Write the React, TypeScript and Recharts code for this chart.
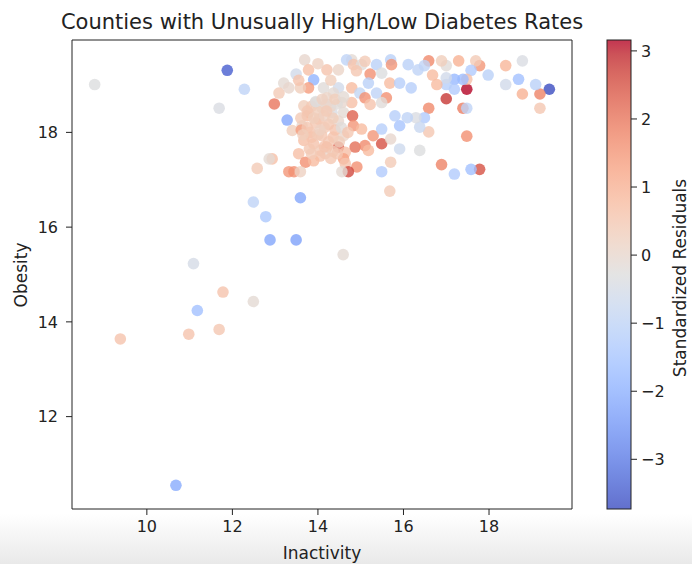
import React from 'react';
import { ScatterChart, Scatter, XAxis, YAxis, ReferenceLine } from 'recharts';

// [inactivity %, obesity %, standardized residual]
type County = [number, number, number];

// Counties outside the main cloud
const outlyingCounties: County[] = [
  [8.78, 19.01, -0.3],
  [11.88, 19.31, -3.45],
  [12.28, 18.91, -1.0],
  [11.69, 18.51, -0.4],
  [12.98, 18.6, 2.0],
  [12.49, 16.53, -1.0],
  [12.78, 16.22, -1.4],
  [13.59, 16.62, -2.2],
  [12.88, 15.73, -2.2],
  [13.49, 15.73, -2.3],
  [14.59, 15.42, -0.1],
  [11.09, 15.23, -0.5],
  [11.78, 14.63, 0.6],
  [12.49, 14.43, -0.1],
  [11.18, 14.24, -1.6],
  [9.38, 13.64, 0.6],
  [10.98, 13.74, 0.6],
  [11.69, 13.84, 0.5],
  [10.68, 10.55, -2.1],
];

// Counties in the dense middle band
const coreCounties: County[] = [
  [13.69, 19.53, 0.0],
  [13.49, 19.23, -0.6],
  [13.78, 19.32, 0.7],
  [13.9, 19.11, -1.9],
  [13.78, 18.94, 1.4],
  [13.2, 19.04, -0.1],
  [13.09, 18.83, 0.4],
  [13.32, 18.94, 0.0],
  [13.59, 18.94, 0.3],
  [14.21, 19.32, 0.6],
  [14.48, 19.32, 0.1],
  [14.79, 19.53, -0.1],
  [14.67, 19.53, -1.0],
  [14.83, 19.43, 0.6],
  [15.02, 19.43, -0.2],
  [15.22, 19.23, 1.6],
  [15.18, 19.04, -1.1],
  [15.37, 19.43, -1.1],
  [15.7, 19.53, -1.1],
  [15.72, 19.43, 1.5],
  [15.49, 19.25, -0.3],
  [15.68, 19.04, 0.8],
  [15.91, 19.04, -1.2],
  [16.11, 19.43, -1.1],
  [16.34, 19.32, -1.0],
  [16.18, 18.94, -1.2],
  [14.48, 18.94, -0.6],
  [14.79, 18.94, 0.8],
  [14.98, 18.83, -0.9],
  [15.1, 18.73, 1.6],
  [15.37, 18.83, -1.0],
  [15.6, 18.73, 1.6],
  [15.49, 18.63, -0.2],
  [15.22, 18.59, 0.6],
  [14.79, 18.63, 0.7],
  [14.56, 18.63, 0.0],
  [14.36, 18.83, -0.1],
  [14.13, 18.94, -0.2],
  [14.21, 18.73, 0.1],
  [13.94, 18.63, 0.2],
  [13.67, 18.56, 0.3],
  [13.78, 18.42, 0.2],
  [14.09, 18.52, 0.0],
  [14.33, 18.42, -0.4],
  [14.6, 18.42, -0.1],
  [14.81, 18.35, 2.3],
  [13.75, 18.35, 0.8],
  [13.28, 18.26, -2.2],
  [13.63, 18.14, 0.0],
  [14.02, 18.28, 0.6],
  [14.25, 18.17, 0.5],
  [14.48, 18.24, 0.0],
  [14.83, 18.14, 1.5],
  [15.02, 18.07, 0.8],
  [13.4, 18.04, 0.3],
  [13.61, 18.05, 1.4],
  [13.82, 18.0, 0.6],
  [14.09, 17.93, 0.5],
  [14.36, 17.9, 0.6],
  [14.6, 17.93, 0.1],
  [13.67, 17.83, 0.7],
  [13.9, 17.76, 0.6],
  [14.21, 17.69, 1.2],
  [14.48, 17.69, 2.4],
  [14.64, 17.58, 0.7],
  [14.87, 17.69, 2.1],
  [15.1, 17.72, 1.7],
  [15.29, 17.93, 1.5],
  [15.49, 17.76, 2.5],
  [15.7, 17.86, 0.0],
  [15.18, 17.62, 0.8],
  [13.55, 17.55, 0.7],
  [13.71, 17.37, 1.6],
  [14.06, 17.62, 0.4],
  [14.17, 17.55, 0.1],
  [14.6, 17.44, 1.3],
  [14.64, 17.34, 0.6],
  [14.91, 17.27, 1.6],
  [14.71, 17.17, 2.6],
  [14.56, 17.17, -0.1],
  [13.32, 17.17, 1.5],
  [13.44, 17.17, 1.6],
  [13.59, 17.17, 0.2],
  [12.93, 17.44, 0.7],
  [12.86, 17.44, -0.1],
  [12.58, 17.24, 0.4],
  [15.49, 17.17, -1.3],
  [15.7, 17.37, 0.4],
  [15.68, 16.76, 0.4],
  [15.91, 17.65, -0.7],
  [15.8, 18.35, -1.2],
  [15.91, 18.14, -1.5],
  [15.49, 18.07, -1.2],
  [13.85, 18.55, 0.4],
  [14.0, 18.45, 0.3],
  [14.15, 18.35, 0.2],
  [14.3, 18.55, 0.1],
  [14.45, 18.6, -0.2],
  [13.95, 18.2, 0.5],
  [14.15, 18.1, 0.4],
  [14.35, 18.3, 0.3],
  [14.4, 18.05, 0.6],
  [13.75, 18.1, 0.5],
  [13.85, 17.9, 0.6],
  [14.0, 17.95, 0.4],
  [14.25, 17.8, 0.5],
  [14.5, 17.8, 0.3],
  [13.8, 17.65, 0.5],
  [14.05, 17.5, 0.6],
  [14.35, 17.6, 0.4],
  [13.95, 18.65, -0.3],
  [14.2, 18.6, 0.0],
  [14.55, 18.1, -0.2],
  [14.7, 18.0, 0.5],
  [13.6, 18.3, 0.4],
  [14.1, 18.7, 0.2],
  [14.3, 17.45, 0.5],
  [13.9, 17.4, 0.8],
  [13.75, 18.45, 0.5],
  [13.9, 18.3, 0.3],
  [14.05, 18.05, 0.2],
  [14.2, 18.45, 0.4],
  [14.4, 18.7, 0.3],
  [13.65, 17.95, 0.3],
  [14.15, 17.7, 0.6],
  [14.45, 17.55, 0.5],
  [13.85, 17.55, 0.4],
  [14.6, 18.75, -0.1],
  [14.9, 19.3, 0.5],
  [15.1, 19.5, 0.4],
  [14.3, 19.1, 0.3],
  [14.0, 19.45, 0.2],
  [13.55, 19.1, 0.6],
];

// Counties with the highest inactivity
const easternCounties: County[] = [
  [19.41, 18.91, -3.73],
  [19.19, 18.81, 1.8],
  [19.19, 18.51, 0.5],
  [19.09, 19.01, -1.1],
  [18.78, 18.81, 1.0],
  [18.69, 19.12, -1.6],
  [18.78, 19.51, -0.4],
  [18.39, 19.41, 0.9],
  [18.39, 19.01, -0.6],
  [17.98, 19.21, -1.1],
  [17.78, 19.41, 1.5],
  [17.69, 19.51, 0.4],
  [17.58, 19.31, -1.3],
  [17.48, 18.91, 3.16],
  [17.48, 19.12, 0.7],
  [17.39, 19.12, -1.7],
  [17.19, 19.12, -1.8],
  [17.19, 18.91, -1.3],
  [17.0, 19.41, -0.2],
  [16.89, 19.51, 0.3],
  [17.0, 19.01, -1.2],
  [17.0, 19.15, -0.6],
  [17.0, 18.71, 2.8],
  [17.29, 19.51, 1.0],
  [16.59, 19.51, 1.7],
  [16.68, 19.21, 0.8],
  [16.78, 19.01, 0.8],
  [16.49, 19.41, -1.0],
  [16.59, 18.51, 1.7],
  [17.39, 18.51, 1.9],
  [17.48, 18.51, -1.0],
  [17.48, 17.92, 1.6],
  [17.78, 17.22, 2.5],
  [17.58, 17.22, -1.6],
  [17.19, 17.12, -1.3],
  [16.89, 17.32, 1.8],
  [16.59, 18.01, 0.5],
  [16.49, 18.31, -1.3],
  [16.38, 18.11, -0.8],
  [16.29, 18.31, -0.4],
  [16.09, 18.31, -1.0],
  [16.38, 17.62, -0.3],
];

const xTicks = [10, 12, 14, 16, 18];
const yTicks = [12, 14, 16, 18];
const residualTicks = [-3, -2, -1, 0, 1, 2, 3];
const residualMin = -3.73;
const residualMax = 3.16;

// coolwarm colormap, 33 evenly spaced stops
const COOLWARM: [number, number, number][] = [
  [59, 76, 192], [68, 90, 204], [77, 104, 215], [87, 117, 225], [98, 130, 234],
  [108, 142, 241], [119, 154, 247], [130, 165, 251], [141, 176, 254], [152, 185, 255],
  [163, 194, 255], [174, 201, 253], [184, 208, 249], [194, 213, 244], [204, 217, 238],
  [213, 219, 230], [221, 221, 221], [229, 216, 209], [236, 211, 197], [241, 204, 185],
  [245, 196, 173], [247, 187, 160], [247, 177, 148], [247, 166, 135], [244, 154, 123],
  [241, 141, 111], [236, 127, 99], [229, 112, 88], [222, 96, 77], [213, 80, 66],
  [203, 62, 56], [192, 40, 47], [180, 4, 38],
];

function coolwarmAt(t: number): string {
  const c = Math.max(0, Math.min(1, t)) * (COOLWARM.length - 1);
  const i = Math.min(COOLWARM.length - 2, Math.floor(c));
  const f = c - i;
  const a = COOLWARM[i];
  const b = COOLWARM[i + 1];
  const mix = (k: number) => Math.round(a[k] + (b[k] - a[k]) * f);
  return `rgb(${mix(0)},${mix(1)},${mix(2)})`;
}

function residualColor(r: number): string {
  return coolwarmAt((r - residualMin) / (residualMax - residualMin));
}

const counties = [...outlyingCounties, ...coreCounties, ...easternCounties].map(
  ([inactivity, obesity, residual]) => ({ inactivity, obesity, residual })
);

const FONT = '"DejaVu Sans", sans-serif';
const INK = '#222';

// plot frame in page pixels
const PLOT = { left: 72, top: 40, right: 572, bottom: 509 };
const CBAR = { left: 607, width: 24 };

const tickStyle = { fontSize: 16, fill: INK, fontFamily: FONT };

const Dot = (props: any) => (
  <circle
    cx={props.cx}
    cy={props.cy}
    r={5.8}
    fill={residualColor(props.payload.residual)}
    fillOpacity={0.8}
  />
);

function Colorbar() {
  const h = PLOT.bottom - PLOT.top;
  const yOf = (v: number) => PLOT.top + ((residualMax - v) / (residualMax - residualMin)) * h;
  const stops = COOLWARM.map((_, i) => {
    const t = i / (COOLWARM.length - 1);
    const v = residualMax - t * (residualMax - residualMin);
    return { offset: t, color: residualColor(v) };
  });
  return (
    <g>
      <defs>
        <linearGradient id="cbar" x1="0" y1="0" x2="0" y2="1">
          {stops.map((s, i) => (
            <stop key={i} offset={s.offset} stopColor={s.color} stopOpacity={0.8} />
          ))}
        </linearGradient>
      </defs>
      <rect x={CBAR.left} y={PLOT.top} width={CBAR.width} height={h} fill="url(#cbar)" stroke={INK} strokeWidth={1} />
      {residualTicks.map((v) => (
        <g key={v}>
          <line x1={CBAR.left + CBAR.width} x2={CBAR.left + CBAR.width + 6} y1={yOf(v)} y2={yOf(v)} stroke={INK} />
          <text x={CBAR.left + CBAR.width + 10} y={yOf(v) + 6} fontSize={16} fill={INK} fontFamily={FONT}>
            {v < 0 ? `\u2212${-v}` : v}
          </text>
        </g>
      ))}
      <text
        transform={`translate(686, 278) rotate(-90)`}
        textAnchor="middle"
        fontSize={17}
        fill={INK}
        fontFamily={FONT}
      >
        Standardized Residuals
      </text>
    </g>
  );
}

export default function App() {
  return (
    <div
      style={{
        position: 'absolute',
        left: 0,
        top: 0,
        width: 692,
        height: 564,
        background: 'linear-gradient(to bottom, #ffffff 0px, #ffffff 514px, #e9e9e9 564px)',
        fontFamily: FONT,
      }}
    >
      <ScatterChart
        width={692}
        height={564}
        margin={{ top: PLOT.top, right: 692 - PLOT.right, bottom: 564 - PLOT.bottom - 40, left: PLOT.left - 60 }}
      >
        <XAxis
          type="number"
          dataKey="inactivity"
          domain={[8.25, 19.94]}
          allowDataOverflow
          ticks={xTicks}
          height={40}
          tickSize={6}
          tickMargin={6}
          axisLine={{ stroke: INK, strokeWidth: 1 }}
          tickLine={{ stroke: INK, strokeWidth: 1 }}
          tick={tickStyle}
        />
        <YAxis
          type="number"
          dataKey="obesity"
          domain={[10.05, 19.95]}
          allowDataOverflow
          ticks={yTicks}
          width={60}
          tickSize={6}
          tickMargin={8}
          axisLine={{ stroke: INK, strokeWidth: 1 }}
          tickLine={{ stroke: INK, strokeWidth: 1 }}
          tick={tickStyle}
        />
        <ReferenceLine y={19.95} stroke={INK} strokeWidth={1} />
        <ReferenceLine x={19.94} stroke={INK} strokeWidth={1} />
        <Scatter data={counties} isAnimationActive={false} shape={<Dot />} />
      </ScatterChart>
      <svg
        width={692}
        height={564}
        style={{ position: 'absolute', left: 0, top: 0, pointerEvents: 'none' }}
      >
        <text x={322} y={29} textAnchor="middle" fontSize={21} fill={INK} fontFamily={FONT}>
          Counties with Unusually High/Low Diabetes Rates
        </text>
        <text x={322} y={559} textAnchor="middle" fontSize={17} fill={INK} fontFamily={FONT}>
          Inactivity
        </text>
        <text transform="translate(27, 275) rotate(-90)" textAnchor="middle" fontSize={17} fill={INK} fontFamily={FONT}>
          Obesity
        </text>
        <Colorbar />
      </svg>
    </div>
  );
}
